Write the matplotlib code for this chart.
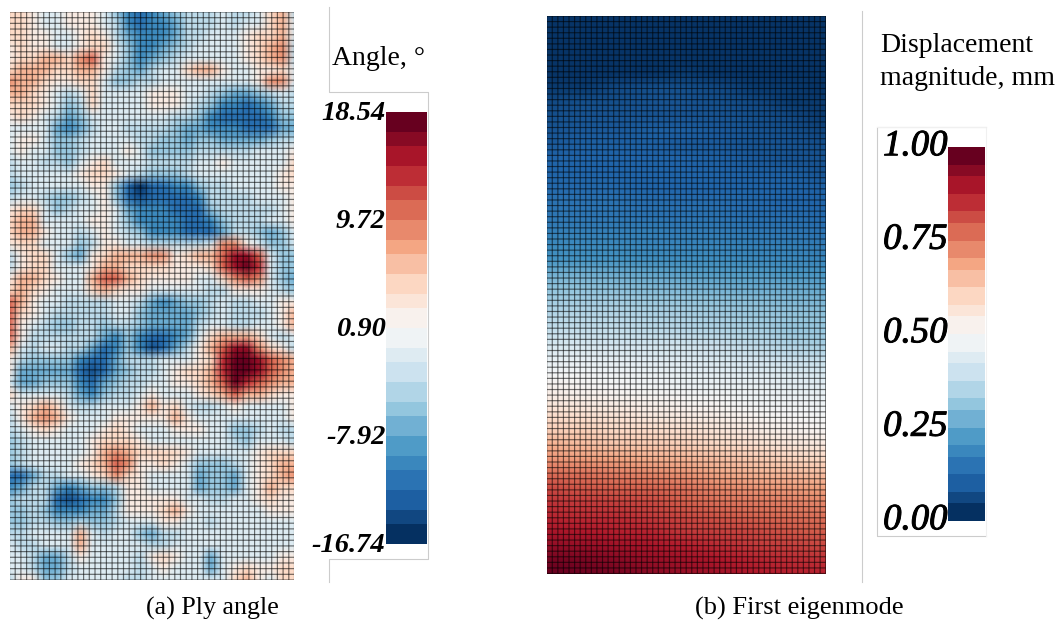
import matplotlib
matplotlib.use("Agg")
import matplotlib.pyplot as plt
import matplotlib.transforms as mtrans
import matplotlib.patheffects as pe
import numpy as np

W, H = 1059, 623

# ply angle in blocks of 2x2 elements
# 0 = darkest blue ... F = darkest red
ply_rows = [
    "99877 88875 32345 66676 679A6",
    "99877 88876 32334 66676 779A7",
    "99887 78986 43334 66777 899A7",
    "89887 78997 53345 67777 89AB6",
    "899AA 9BC87 53456 77777 89AB6",
    "9AAA9 9AA86 54677 9AA87 78897",
    "BAA98 89975 56677 77777 78BB7",
    "AA987 67977 77888 77654 45676",
    "99987 56977 77888 76533 23466",
    "89876 45777 77776 65322 22355",
    "77774 34677 66665 44333 22244",
    "78875 56777 76655 45544 44566",
    "78775 56777 87555 56666 67778",
    "67766 57897 77666 67787 77779",
    "67777 78998 76555 67777 77789",
    "56777 77885 20223 35667 77788",
    "67765 56785 21222 23666 67778",
    "89975 67787 43332 22566 66678",
    "9AA77 77887 53333 22356 66778",
    "9AA87 76787 65333 22246 65457",
    "89977 75688 77666 667BB 87557",
    "68997 5489A AABB8 9AACE EC755",
    "68997 778AA 99998 889CE FD755",
    "8AA98 77ACC A9888 8779B CB754",
    "9A987 779A9 88777 77668 88765",
    "CA877 66667 76434 55676 67788",
    "C9876 66667 75444 45676 6678A",
    "C8765 56656 65444 46776 6778A",
    "C8666 66643 53223 479AA A9767",
    "A7677 66423 53124 68ACE EB986",
    "86555 53224 66677 789DF FECBA",
    "84444 42124 56678 99ADF FECBA",
    "74455 53245 66778 89ACF DCBAA",
    "97777 64356 67877 789AC AA988",
    "789A9 76677 78A89 76678 77778",
    "68ABA 87778 8888A 87777 77778",
    "67898 77789 87778 88775 56766",
    "56777 77899 98777 77776 57776",
    "56777 778AB A9999 87777 78999",
    "56777 789AC B8898 75556 789AA",
    "22466 7789B 98777 74554 789AB",
    "34664 34556 88777 74554 78A99",
    "56662 12335 88888 77667 78988",
    "55653 33446 8889A 87777 77888",
    "55665 56556 77788 77677 77777",
    "66777 7A767 75466 77777 77777",
    "76677 7A777 77667 77777 77777",
    "77644 68777 76898 77477 77788",
    "77644 67777 76787 77478 98899",
    "68855 77777 66777 77779 A8799",
]

# colour position of each level on the bar, 0 to 1
level_values = [0.0, 0.06, 0.12, 0.18, 0.25, 0.31, 0.37, 0.43, 0.54, 0.6, 0.67, 0.73, 0.8, 0.87, 0.93, 1.0]

# displacement in hundredths of a mm, read at 9 columns across the plate
disp_rows = [
    [1, 1, 1, 1, 1, 1, 1, 1, 1],
    [1, 1, 1, 1, 1, 1, 1, 1, 1],
    [1, 1, 1, 1, 1, 1, 1, 1, 1],
    [1, 1, 1, 1, 1, 1, 1, 1, 1],
    [1, 1, 1, 1, 2, 1, 1, 1, 1],
    [2, 2, 5, 6, 6, 5, 2, 2, 1],
    [5, 6, 6, 7, 7, 6, 5, 2, 2],
    [6, 7, 7, 7, 7, 7, 6, 5, 2],
    [7, 8, 8, 9, 9, 8, 7, 6, 4],
    [8, 9, 9, 9, 8, 8, 7, 7, 6],
    [10, 10, 10, 10, 10, 9, 8, 7, 7],
    [10, 10, 10, 10, 10, 10, 9, 9, 7],
    [11, 11, 11, 10, 10, 10, 10, 10, 9],
    [13, 13, 13, 12, 12, 12, 11, 10, 10],
    [14, 14, 14, 13, 13, 13, 12, 12, 11],
    [16, 16, 16, 16, 15, 15, 14, 14, 13],
    [18, 18, 18, 17, 17, 17, 16, 16, 15],
    [20, 20, 20, 19, 19, 19, 18, 18, 17],
    [26, 26, 25, 24, 23, 22, 22, 21, 21],
    [30, 30, 29, 28, 27, 26, 25, 25, 24],
    [33, 33, 33, 32, 31, 30, 29, 28, 27],
    [36, 36, 36, 35, 34, 33, 32, 31, 30],
    [38, 38, 38, 37, 36, 35, 34, 31, 31],
    [42, 42, 41, 41, 40, 39, 37, 35, 33],
    [46, 46, 45, 44, 43, 42, 41, 39, 38],
    [49, 49, 48, 47, 46, 45, 44, 43, 42],
    [52, 51, 50, 49, 48, 47, 47, 46, 45],
    [55, 54, 53, 52, 51, 50, 48, 48, 47],
    [59, 58, 57, 55, 54, 53, 51, 50, 49],
    [62, 62, 60, 59, 58, 56, 54, 52, 51],
    [68, 66, 64, 63, 62, 60, 58, 56, 55],
    [72, 71, 70, 68, 67, 65, 63, 61, 60],
    [78, 77, 75, 74, 72, 69, 67, 66, 65],
    [83, 81, 80, 79, 77, 74, 72, 71, 70],
    [86, 85, 84, 83, 80, 77, 76, 75, 74],
    [88, 87, 87, 85, 83, 81, 79, 78, 77],
    [91, 90, 89, 88, 85, 84, 83, 81, 80],
    [94, 93, 92, 91, 89, 87, 85, 84, 83],
    [98, 97, 95, 93, 92, 90, 88, 87, 86],
    [100, 99, 98, 95, 93, 92, 90, 89, 89],
]

angle_ticks = [18.54, 9.72, 0.90, -7.92, -16.74]
angle_labels = ["18.54", "9.72", "0.90", "-7.92", "-16.74"]
disp_ticks = [1.00, 0.75, 0.50, 0.25, 0.00]
disp_labels = ["1.00", "0.75", "0.50", "0.25", "0.00"]

SERIF = "Liberation Serif"
LEVELS = "0123456789ABCDEF"
plt.rcParams["font.family"] = SERIF


def px_axes(x0, y0, x1, y1):
    # axes placed by pixel box, y counted from the top
    ax = fig.add_axes([x0 / W, 1 - y1 / H, (x1 - x0) / W, (y1 - y0) / H])
    return ax


def draw_plate(box, field, vmax):
    ax = px_axes(*box)
    nrow, ncol = field.shape
    xs = np.linspace(0, 50, ncol)
    ys = np.linspace(0, 100, nrow)
    ax.pcolormesh(xs, ys, field, cmap="RdBu_r", vmin=0, vmax=vmax, shading="gouraud")
    # unsnapped so the lines blur a little, as they do in the scan
    v = ax.vlines(np.arange(51), 0, 100, colors="k", lw=0.85, alpha=0.55)
    h = ax.hlines(np.arange(101), 0, 50, colors="k", lw=0.85, alpha=0.55)
    v.set_snap(False)
    h.set_snap(False)
    ax.set_xlim(0, 50)
    ax.set_ylim(100, 0)
    ax.axis("off")


def draw_bar(box, ticks, labels, size, weight, lift, stroke):
    ax = px_axes(*box)
    # the bar has 24 bands, widths in a repeating 3:2:3 pattern
    widths = np.array([1.5, 1.0, 1.5] * 8)
    edges = np.concatenate([[0], np.cumsum(widths)]) / 32
    vmin, vmax = min(ticks), max(ticks)
    yy = vmin + edges * (vmax - vmin)
    shades = np.linspace(0, 1, 24)
    ax.pcolormesh([0, 1], yy, shades[:, None], cmap="RdBu_r", vmin=0, vmax=1)
    ax.set_xlim(0, 1)
    ax.set_ylim(vmin, vmax)
    ax.set_xticks([])
    ax.set_yticks(ticks)
    ax.set_yticklabels(labels, fontsize=size, style="italic", weight=weight, family=SERIF)
    ax.tick_params(axis="y", length=0, pad=0)
    off = mtrans.ScaledTranslation(0, lift / 100, fig.dpi_scale_trans)
    for lab in ax.get_yticklabels():
        lab.set_transform(lab.get_transform() + off)
        if stroke:
            lab.set_path_effects([pe.withStroke(linewidth=stroke, foreground="black")])
    for s in ax.spines.values():
        s.set_visible(False)
    return ax


fig = plt.figure(figsize=(W / 100, H / 100), dpi=100)
fig.patch.set_facecolor("white")

# frame lines and captions live on one pixel-sized layer
bg = fig.add_axes([0, 0, 1, 1])
bg.set_xlim(0, W)
bg.set_ylim(H, 0)
bg.axis("off")
grey = "#cccccc"
bg.plot([328.5, 328.5, 427.5, 427.5, 328.5, 328.5], [7, 91.5, 91.5, 558.5, 558.5, 582], color=grey, lw=0.8)
bg.plot([861.5, 861.5], [11, 582], color=grey, lw=0.8)
bg.plot([985.5, 876.5, 876.5, 985.5], [127, 127, 536, 536], color=grey, lw=0.8)
bg.plot([876.5, 985.5, 985.5], [127, 127, 536], color="#f0f0f0", lw=0.8)

ply = np.array([[level_values[LEVELS.index(c)] for c in row.replace(" ", "")] for row in ply_rows])
disp = np.array(disp_rows, dtype=float)

draw_plate((9.5, 12, 294.5, 580), ply, 1)
draw_plate((546.7, 16, 825.7, 573.5), disp, 100)

draw_bar((385.5, 112, 427, 544), angle_ticks, angle_labels, 20.5, "bold", 2, 0)
draw_bar((947.5, 147, 985, 521), disp_ticks, disp_labels, 26.5, "normal", 5, 0.7)

bg.text(332, 65, "Angle, °", fontsize=20, va="baseline")
bg.text(880, 52, "Displacement", fontsize=20, va="baseline")
bg.text(880, 85, "magnitude, mm", fontsize=20, va="baseline")
bg.text(146, 615, "(a) Ply angle", fontsize=18.7, va="baseline")
bg.text(695, 615, "(b) First eigenmode", fontsize=19, va="baseline")

fig.savefig("out.png", dpi=100)
